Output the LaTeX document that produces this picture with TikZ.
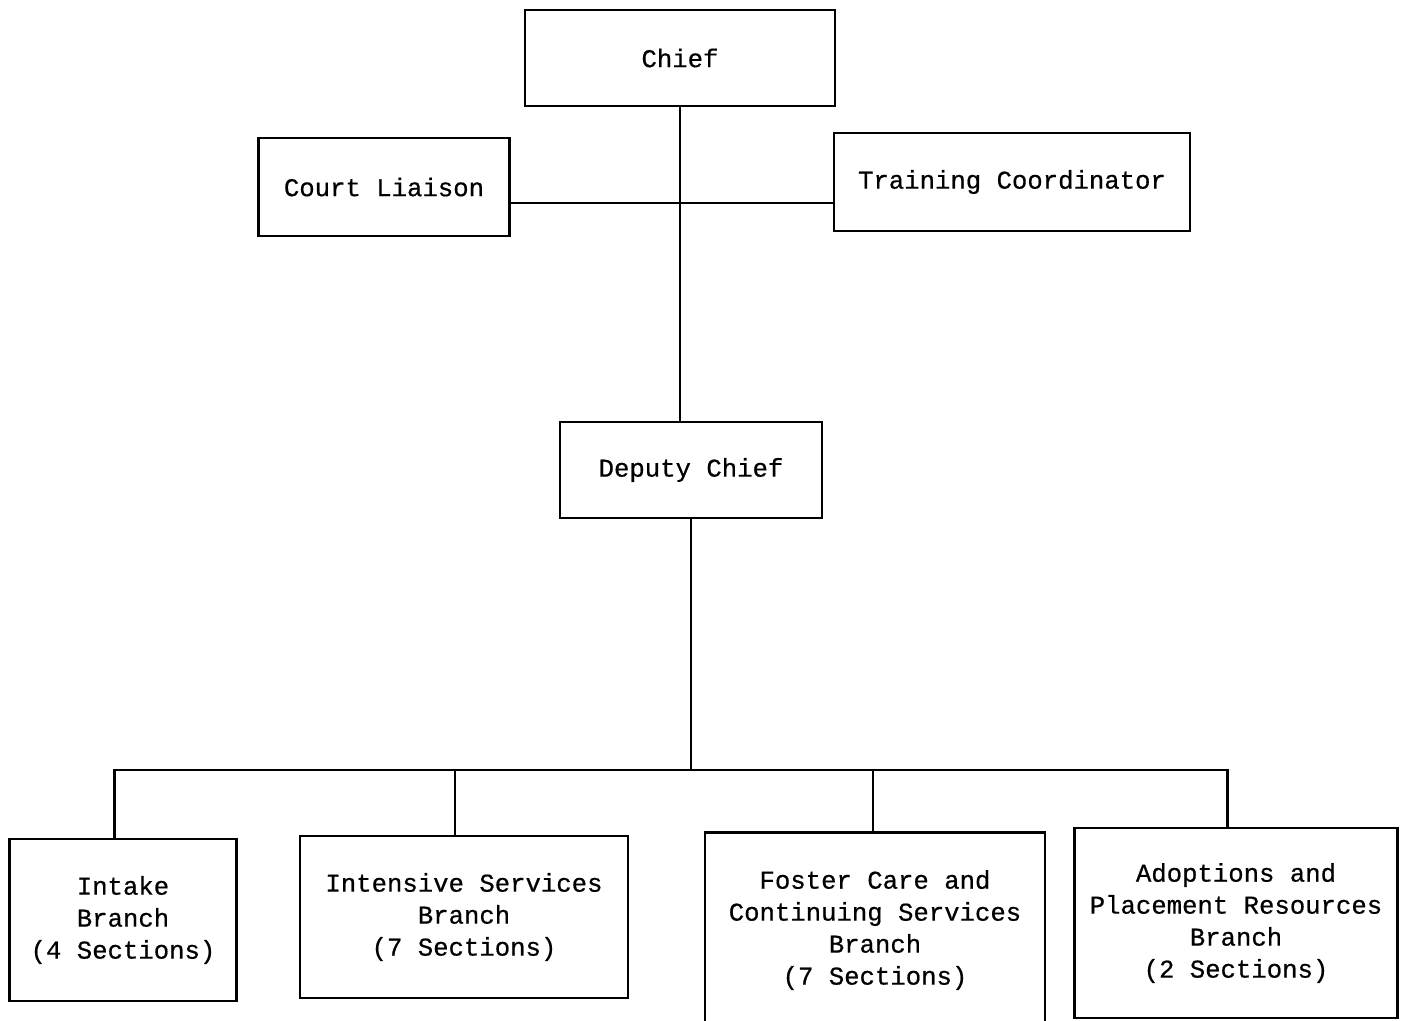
\documentclass[tikz,border=0pt]{standalone}
\usepackage{fontspec}
\setmonofont[FakeBold=0.6]{Liberation Mono}
\usepackage{tikz}
\usetikzlibrary{positioning}
\tikzset{
    basic/.style  = {draw, line width=1.3pt, rectangle, font=\ttfamily\fontsize{14.6}{18.2}\selectfont, align=center, inner sep=0pt},
    head/.style   = {basic, minimum width=6.2cm, minimum height=1.92cm},
    staff/.style  = {basic, minimum height=1.96cm},
    branch/.style = {basic, minimum height=3.24cm},
    link/.style   = {draw, line width=1.3pt}
}
\begin{document}
\begin{tikzpicture}[x=0.02cm, y=-0.02cm]
	\useasboundingbox (0,0) rectangle (1407,1021);
	% top of the chart
	\node[head] (chief) at (680,58) {Chief};
	\node[staff, minimum width=5.02cm] (liaison) at (384,187) {Court Liaison};
	\node[staff, minimum width=7.12cm] (training) at (1012,182) {Training Coordinator};
	\node[head, minimum width=5.24cm] (deputy) at (691,470) {Deputy Chief};
	% branches
	\node[branch, minimum width=4.54cm] (intake) at (123,920) {Intake\\Branch\\(4 Sections)};
	\node[branch, minimum width=6.56cm] (intensive) at (464,917) {Intensive Services\\Branch\\(7 Sections)};
	\node[branch, minimum width=6.8cm, minimum height=3.9cm] (foster) at (875,930) {Foster Care and\\Continuing Services\\Branch\\(7 Sections)};
	\node[branch, minimum width=6.46cm, minimum height=3.8cm] (adopt) at (1236,923) {Adoptions and\\Placement Resources\\Branch\\(2 Sections)};
	\coordinate (staffline) at (680,203);
	\coordinate (bus) at (687,770);
	% connectors
	\draw[link] (chief.south) -- (chief.south |- deputy.north);
	\draw[link] (staffline -| liaison.east) -- (staffline -| training.west);
	\draw[link] (deputy.south) -- (deputy.south |- bus);
	\foreach \br/\s in {intake/-0.17, intensive/-0.18, foster/-0.04, adopt/-0.17}
		\coordinate (top-\br) at ([xshift=\s cm]\br.north);
	\draw[link] (top-intake) |- (bus -| top-adopt) -- (top-adopt);
	\foreach \br in {intensive, foster}
		\draw[link] (bus -| top-\br) -- (top-\br);
\end{tikzpicture}
\end{document}
